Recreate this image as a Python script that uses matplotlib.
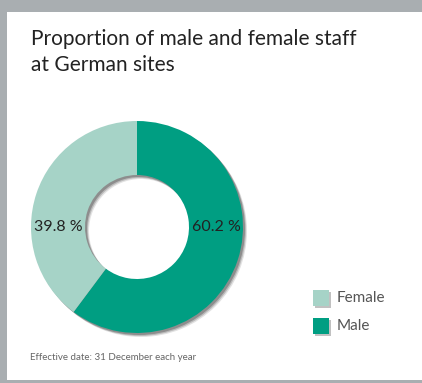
import matplotlib
matplotlib.use("Agg")
import matplotlib.pyplot as plt
from matplotlib.patches import Rectangle

labels = ["Male", "Female"]
shares = [60.2, 39.8]
colors = ["#009e82", "#a6d3c7"]
title = "Proportion of male and female staff\nat German sites"
note = "Effective date: 31 December each year"

plt.rcParams['font.family'] = ['Lato', 'DejaVu Sans']

W, H = 422, 383
fig = plt.figure(figsize=(W / 100, H / 100), dpi=100, facecolor="#a9aeb1")
ax = fig.add_axes([0, 0, 1, 1])
ax.set_xlim(0, W)
ax.set_ylim(0, H)
ax.set_aspect("equal")
ax.axis("off")

# white panel inside gray frame
ax.add_patch(Rectangle((7, 3), W - 7, H - 15, facecolor="white", edgecolor="none", zorder=0))

cx, cy, r, ring = 137, H - 227, 106, 54

# soft shadow behind the ring
for k, a in [(4, 0.2), (3, 0.35), (2, 0.6)]:
    ax.pie([100], radius=r, center=(cx + k, cy - k), colors=["#707070"],
           wedgeprops=dict(width=ring, edgecolor="none", alpha=a), frame=True)

wedges, _ = ax.pie(shares, radius=r, center=(cx, cy), startangle=90, counterclock=False,
                   colors=colors, wedgeprops=dict(width=ring, edgecolor="none"), frame=True)
ax.set_xlim(0, W)
ax.set_ylim(0, H)
ax.axis("off")

mid = r - ring / 2
ax.text(cx + mid, cy, f"{shares[0]:.1f} %", ha="center", va="center", fontsize=11.5,
        color="#222222")
ax.text(cx - mid, cy, f"{shares[1]:.1f} %", ha="center", va="center", fontsize=11.5,
        color="#222222")

ax.text(31, H - 29, title, ha="left", va="top", fontsize=15, color="#222222", linespacing=1.4)

# legend
for i, (lab, col) in enumerate(zip(labels[::-1], colors[::-1])):
    y = H - 299 - 28 * i
    ax.add_patch(Rectangle((314.5, y - 8.5), 16, 16, facecolor="#999999", edgecolor="none", alpha=0.6))
    ax.add_patch(Rectangle((313, y - 7), 16, 16, facecolor=col, edgecolor="none"))
    ax.text(337, y + 1, lab, ha="left", va="center", fontsize=11, color="#555555")

ax.text(30, H - 357, note, ha="left", va="center", fontsize=7, color="#666666")

fig.savefig("out.png", dpi=100, facecolor=fig.get_facecolor())
